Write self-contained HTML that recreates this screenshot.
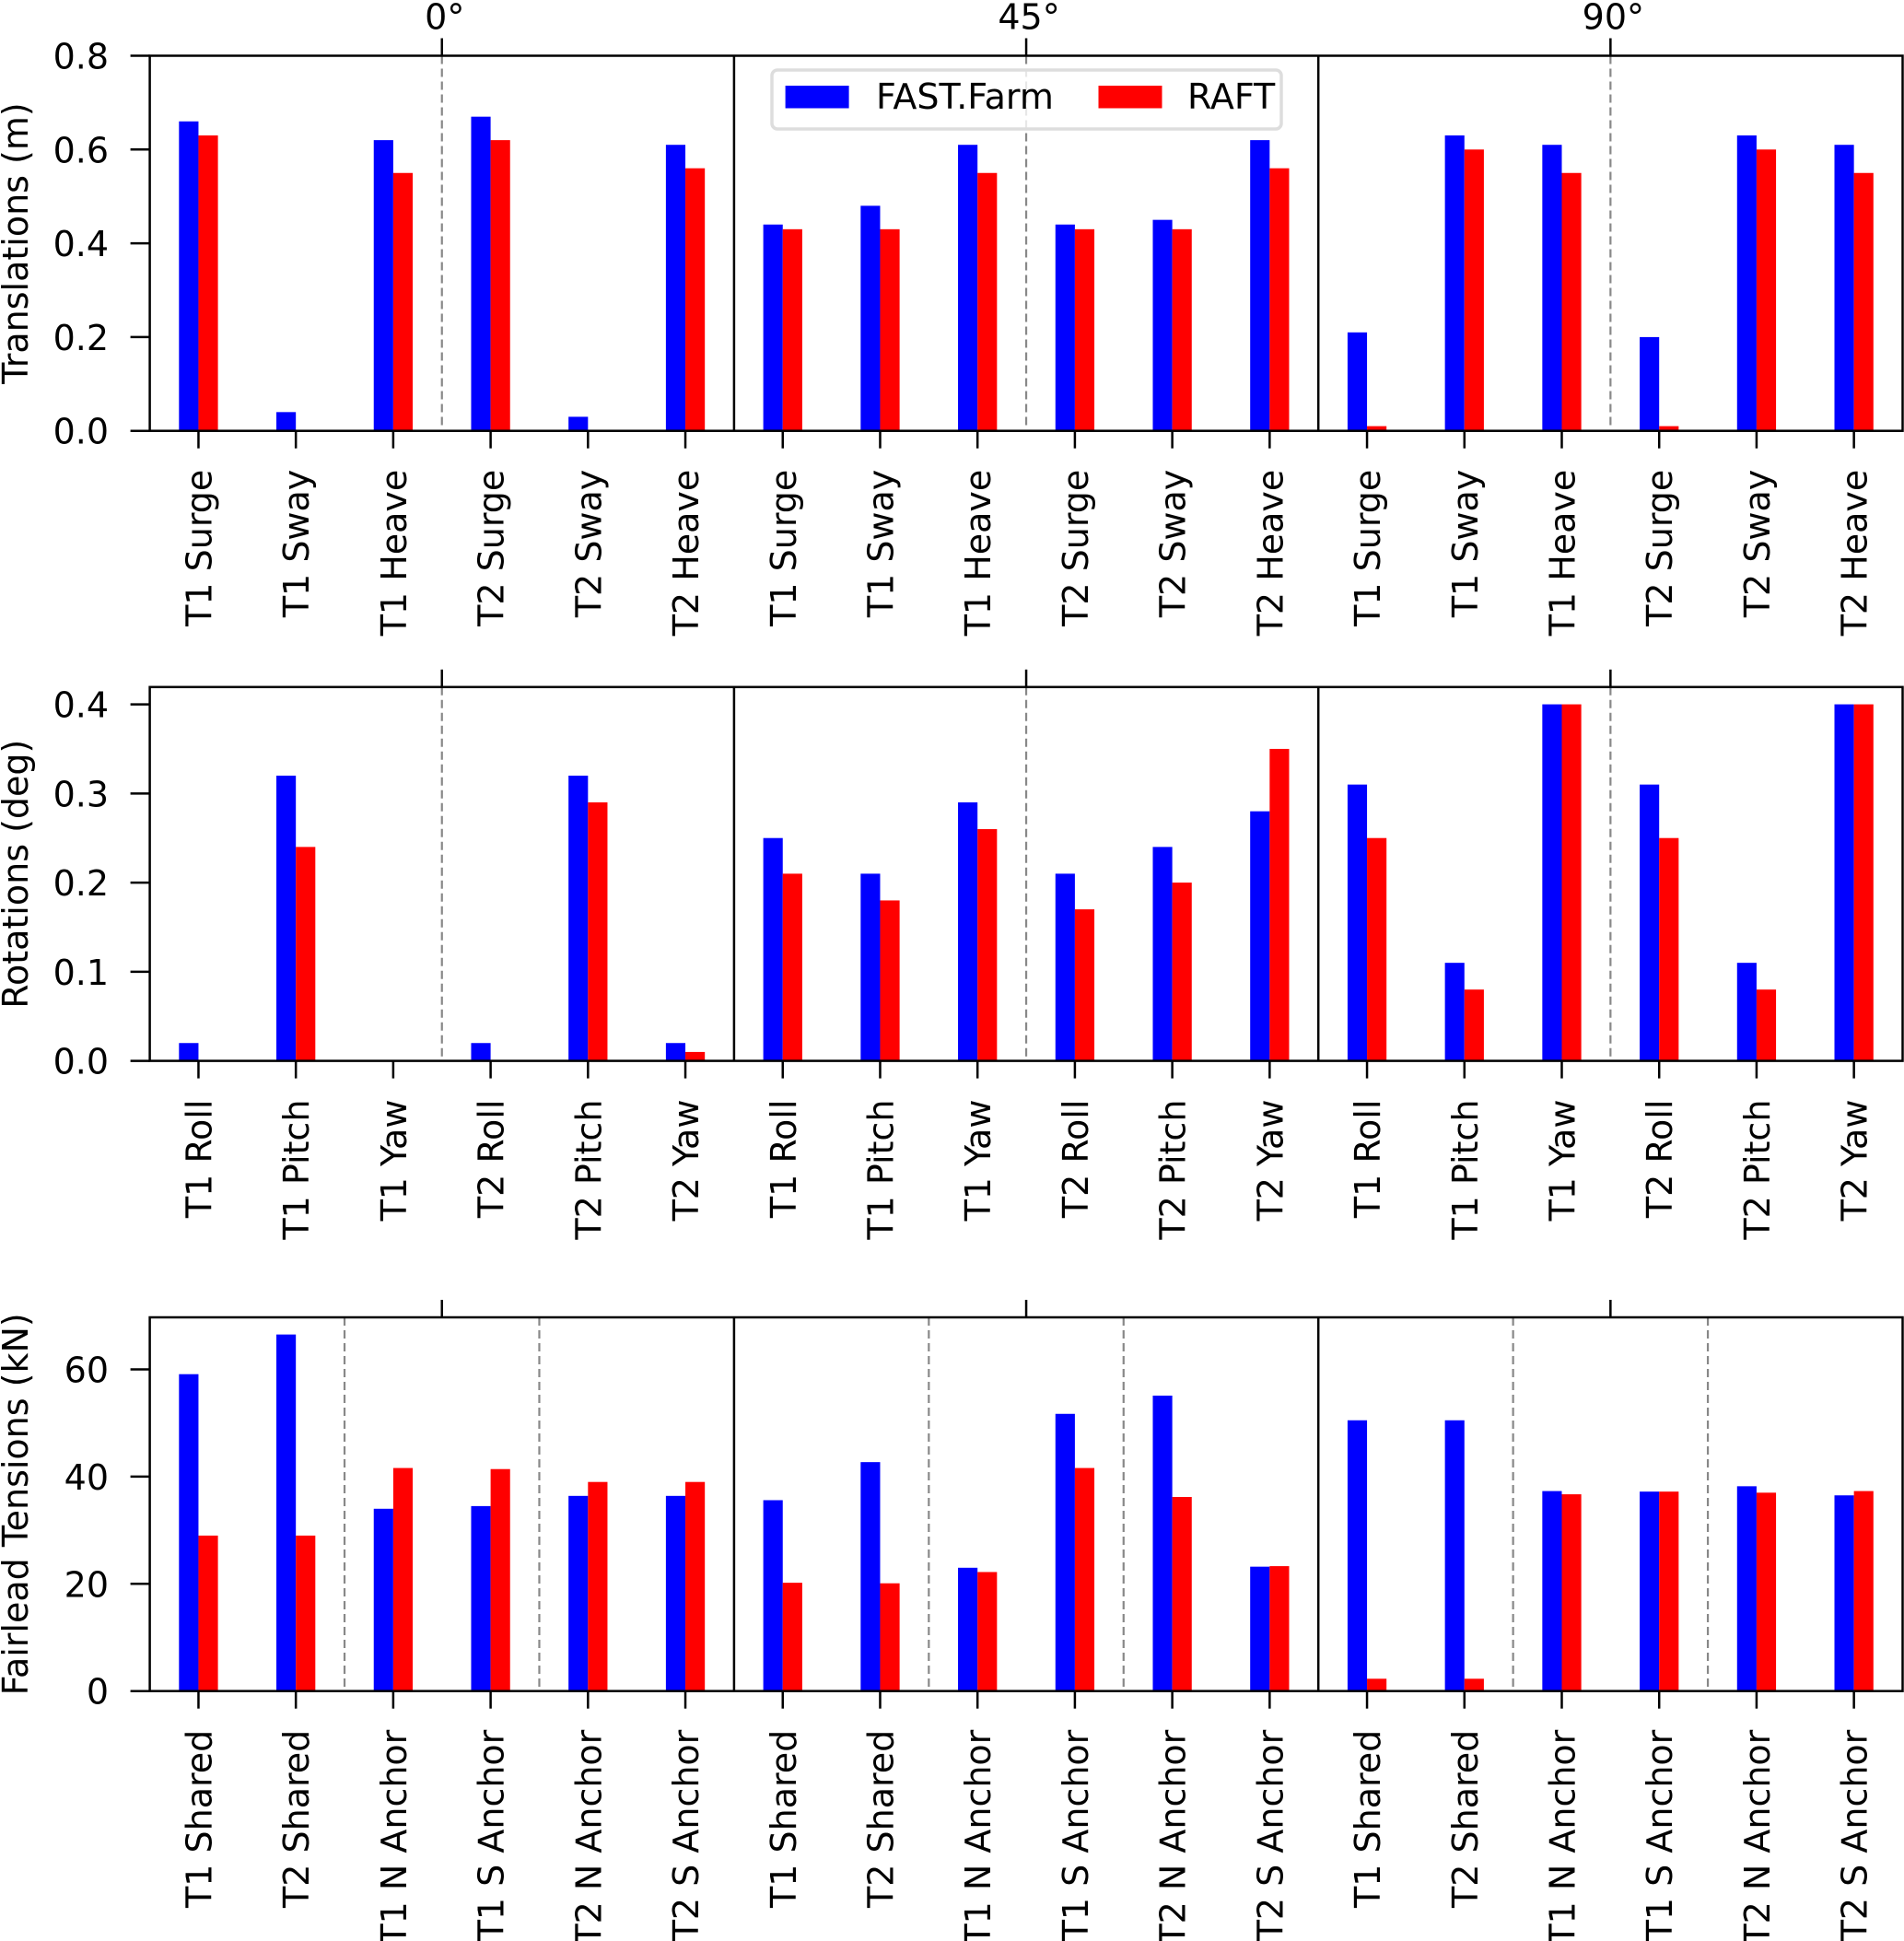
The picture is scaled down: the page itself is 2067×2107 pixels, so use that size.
<!DOCTYPE html>
<html><head><meta charset="utf-8"><style>
html,body{margin:0;padding:0;background:#fff;}
svg{display:block;font-family:"DejaVu Sans","Liberation Sans",sans-serif;}
</style></head><body>
<svg id="chart" width="2067" height="2107" viewBox="0 0 2067 2107" xmlns="http://www.w3.org/2000/svg"></svg>
<script>
// ---- data ----
const transCats = ["T1 Surge","T1 Sway","T1 Heave","T2 Surge","T2 Sway","T2 Heave"];
const rotCats = ["T1 Roll","T1 Pitch","T1 Yaw","T2 Roll","T2 Pitch","T2 Yaw"];
const tenCats = ["T1 Shared","T2 Shared","T1 N Anchor","T1 S Anchor","T2 N Anchor","T2 S Anchor"];
const headings = ["0°","45°","90°"];
const transFast = [0.66,0.04,0.62,0.67,0.03,0.61, 0.44,0.48,0.61,0.44,0.45,0.62, 0.21,0.63,0.61,0.20,0.63,0.61];
const transRaft = [0.63,0.00,0.55,0.62,0.00,0.56, 0.43,0.43,0.55,0.43,0.43,0.56, 0.01,0.60,0.55,0.01,0.60,0.55];
const rotFast = [0.02,0.32,0.00,0.02,0.32,0.02, 0.25,0.21,0.29,0.21,0.24,0.28, 0.31,0.11,0.40,0.31,0.11,0.40];
const rotRaft = [0.00,0.24,0.00,0.00,0.29,0.01, 0.21,0.18,0.26,0.17,0.20,0.35, 0.25,0.08,0.40,0.25,0.08,0.40];
const tenFast = [59.1,66.5,34.0,34.5,36.4,36.4, 35.6,42.7,23.0,51.7,55.1,23.2, 50.5,50.5,37.3,37.2,38.2,36.5];
const tenRaft = [29.0,29.0,41.6,41.4,39.0,39.0, 20.2,20.1,22.2,41.6,36.2,23.3, 2.3,2.3,36.7,37.2,37.0,37.3];
const transTicks = [0.0,0.2,0.4,0.6,0.8];
const rotTicks = [0.0,0.1,0.2,0.3,0.4];
const tenTicks = [0,20,40,60];
const transTickLabels = ["0.0","0.2","0.4","0.6","0.8"];
const rotTickLabels = ["0.0","0.1","0.2","0.3","0.4"];
const tenTickLabels = ["0","20","40","60"];

const NS="http://www.w3.org/2000/svg";
const svg=document.getElementById('chart');
function mk(tag,attrs,parent){const e=document.createElementNS(NS,tag);for(const k in attrs)e.setAttribute(k,attrs[k]);(parent||svg).appendChild(e);return e;}

const X0=162.6, X1=2065.5;
const N=18, step=(X1-X0)/N, bw=step*0.2;
const FS=38;
function xc(i){return X0+step*(i+0.5);}

function panel(cfg){
  const g=mk('g',{});
  
  
  const y=v=>cfg.bottom-(v/cfg.ymax)*(cfg.bottom-cfg.top);
  cfg.dashes.forEach(d=>{for(let s=0;s<3;s++){const x=X0+step*(6*s+d);
    const l=mk('line',{x1:x,x2:x,y1:cfg.top,y2:cfg.bottom,stroke:'#888','stroke-width':2.2,'stroke-dasharray':'9,5'},g);
    
    }});
  for(let i=0;i<N;i++){
    const b1=mk('rect',{x:xc(i)-bw,y:y(cfg.fast[i]),width:bw,height:cfg.bottom-y(cfg.fast[i]),fill:'#0000ff'},g);
    
    
    const b2=mk('rect',{x:xc(i),y:y(cfg.raft[i]),width:bw,height:cfg.bottom-y(cfg.raft[i]),fill:'#ff0000'},g);
    
    
  }
  [1,2].forEach(s=>{const x=X0+step*6*s;mk('line',{x1:x,x2:x,y1:cfg.top,y2:cfg.bottom,stroke:'#000','stroke-width':2.5},g);});
  const fr=mk('rect',{x:X0,y:cfg.top,width:X1-X0,height:cfg.bottom-cfg.top,fill:'none',stroke:'#000','stroke-width':2.5},g);
  
  
  cfg.ticks.forEach((t,k)=>{const yy=y(t);
    mk('line',{x1:X0-21,x2:X0,y1:yy,y2:yy,stroke:'#000','stroke-width':2.5},g);
    const tx=mk('text',{x:118,y:yy+14,'text-anchor':'end','font-size':FS},g);
    tx.textContent=cfg.tickLabels[k];
    
    });
  for(let i=0;i<N;i++){const x=xc(i);
    mk('line',{x1:x,x2:x,y1:cfg.bottom,y2:cfg.bottom+19,stroke:'#000','stroke-width':2.5},g);
    const tx=mk('text',{x:0,y:0,'text-anchor':'end','font-size':FS,transform:`translate(${x+14},${cfg.bottom+42}) rotate(-90)`},g);
    tx.textContent=cfg.cats[i%6];
    
    }
  for(let s=0;s<3;s++){const x=X0+step*(6*s+3);
    mk('line',{x1:x,x2:x,y1:cfg.top-19,y2:cfg.top,stroke:'#000','stroke-width':2.5},g);
    if(cfg.headLabels){const t=mk('text',{x:x+3,y:cfg.top-29,'text-anchor':'middle','font-size':FS},g);
      t.textContent=headings[s];
      
      }}
  const yl=mk('text',{x:0,y:0,'text-anchor':'middle','font-size':FS,transform:`translate(30,${(cfg.top+cfg.bottom)/2}) rotate(-90)`},g);
  yl.textContent=cfg.ylabel;
  
  
  return g;
}

panel({name:'translations-panel',top:60.5,bottom:467.7,ymax:0.8,fast:transFast,raft:transRaft,cats:transCats,ticks:transTicks,tickLabels:transTickLabels,dashes:[3],headLabels:true,ylabel:'Translations (m)'});
panel({name:'rotations-panel',top:745.8,bottom:1151.6,ymax:0.4194,fast:rotFast,raft:rotRaft,cats:rotCats,ticks:rotTicks,tickLabels:rotTickLabels,dashes:[3],headLabels:false,ylabel:'Rotations (deg)'});
panel({name:'tensions-panel',top:1430,bottom:1835.7,ymax:69.7,fast:tenFast,raft:tenRaft,cats:tenCats,ticks:tenTicks,tickLabels:tenTickLabels,dashes:[2,4],headLabels:false,ylabel:'Fairlead Tensions (kN)'});

const lg=mk('g',{});


mk('rect',{x:838,y:76,width:553,height:64,rx:6,fill:'#fff','fill-opacity':0.8,stroke:'#dddddd','stroke-width':3.5},lg);
const le1=mk('rect',{x:852.6,y:93,width:69,height:24.5,fill:'#0000ff'},lg);


const lt1=mk('text',{x:951,y:118,'font-size':FS},lg);lt1.textContent='FAST.Farm';


const le2=mk('rect',{x:1192.5,y:93,width:69,height:24.5,fill:'#ff0000'},lg);


const lt2=mk('text',{x:1289,y:118,'font-size':FS},lg);lt2.textContent='RAFT';


</script>
</body></html>
